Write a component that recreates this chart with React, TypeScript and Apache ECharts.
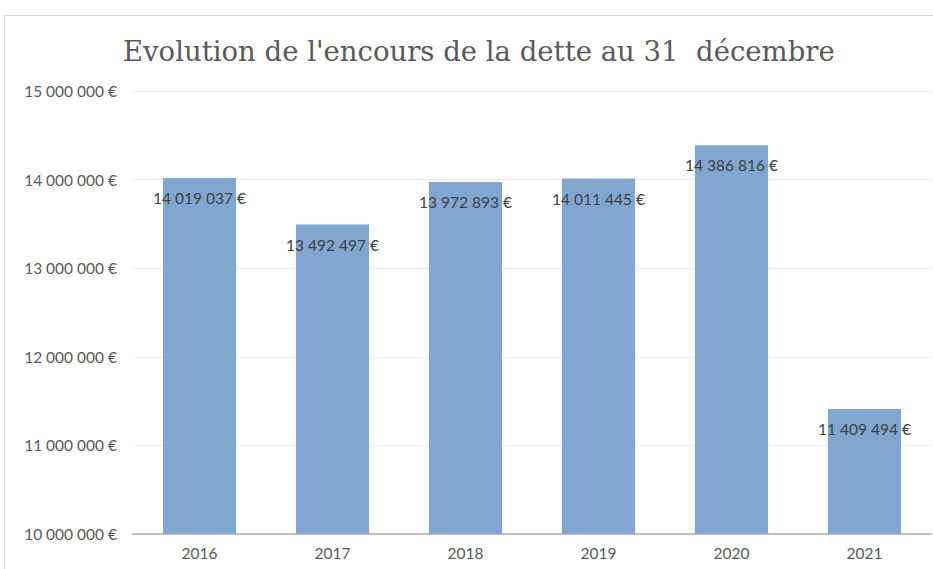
import React, { useEffect, useRef } from "react";
import * as echarts from "echarts";

const years = ["2016", "2017", "2018", "2019", "2020", "2021"];
const encours = [14019037, 13492497, 13972893, 14011445, 14386816, 11409494];
const yMin = 10000000;
const yMax = 15000000;
const yStep = 1000000;

const fmt = (v: number) =>
  String(Math.round(v)).replace(/\B(?=(\d{3})+(?!\d))/g, " ") + " €";

export default function App() {
  const ref = useRef<HTMLDivElement>(null);
  useEffect(() => {
    if (!ref.current) return;
    const chart = echarts.init(ref.current, undefined, { renderer: "svg" });
    chart.setOption({
      animation: false,
      backgroundColor: "#ffffff",
      title: {
        text: "Evolution de l'encours de la dette au 31  décembre",
        left: 118,
        top: 32,
        textStyle: {
          fontFamily: "DejaVu Serif",
          fontSize: 27.5,
          fontWeight: "normal",
          color: "#595959",
        },
      },
      graphic: [
        {
          type: "rect",
          shape: { x: 4.5, y: 15.5, width: 940, height: 600 },
          style: { fill: "none", stroke: "#d9d9d9", lineWidth: 1 },
          z: -1,
        },
      ],
      grid: { left: 133, right: 2, top: 91, bottom: 35, containLabel: false },
      xAxis: {
        type: "category",
        data: years,
        axisLine: { show: true, lineStyle: { color: "#bfbfbf", width: 2 } },
        axisTick: { show: false },
        axisLabel: {
          color: "#595959",
          fontFamily: "Lato",
          fontSize: 15.5,
          margin: 11,
        },
      },
      yAxis: {
        type: "value",
        min: yMin,
        max: yMax,
        interval: yStep,
        axisLine: { show: false },
        axisTick: { show: false },
        splitLine: { lineStyle: { color: "#ededed", width: 1 } },
        axisLabel: {
          color: "#595959",
          fontFamily: "Lato",
          fontSize: 15.5,
          margin: 16,
          formatter: (v: number) => fmt(v),
        },
      },
      series: [
        {
          type: "bar",
          data: encours,
          barWidth: "55%",
          itemStyle: { color: "#81a6d0" },
          label: {
            show: true,
            position: "insideTop",
            distance: 12,
            color: "#404040",
            fontFamily: "Lato",
            fontSize: 15.5,
            formatter: (p: any) => fmt(p.value),
          },
        },
      ],
    });
    return () => chart.dispose();
  }, []);
  return (
    <div
      ref={ref}
      style={{ position: "absolute", left: 0, top: 0, width: 933, height: 569 }}
    />
  );
}
